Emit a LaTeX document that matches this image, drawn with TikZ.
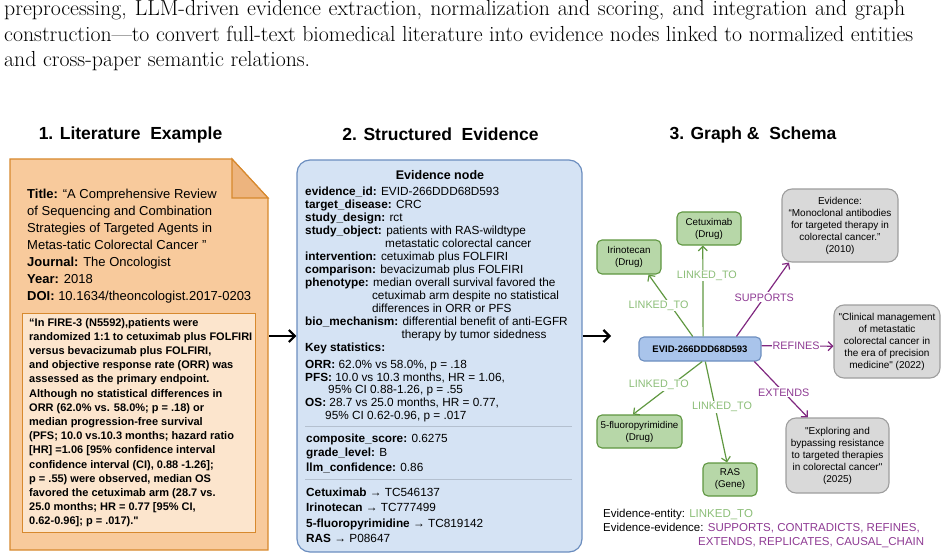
\documentclass[tikz,border=0pt]{standalone}
\usepackage{fontspec}
\setsansfont{Liberation Sans}
\usetikzlibrary{arrows.meta}

\definecolor{docfill}{HTML}{F8CA9C}
\definecolor{docdraw}{HTML}{D7892E}
\definecolor{foldfill}{HTML}{EDB47E}
\definecolor{quotefill}{HTML}{FCE5CD}
\definecolor{evfill}{HTML}{D5E3F4}
\definecolor{evdraw}{HTML}{6C8EBF}
\definecolor{evidfill}{HTML}{A9C4EB}
\definecolor{entfill}{HTML}{B7D7A8}
\definecolor{entdraw}{HTML}{5F9641}
\definecolor{grayfill}{HTML}{D9D9D9}
\definecolor{graydraw}{HTML}{9E9E9E}
\definecolor{linkline}{HTML}{609841}
\definecolor{linktext}{HTML}{8CBE78}
\definecolor{relline}{HTML}{802880}
\definecolor{reltext}{HTML}{8E3A93}
\definecolor{seprule}{HTML}{B4C0CF}

\tikzset{
  para/.style={anchor=base west, inner sep=0pt, font=\fontsize{21.8}{25}\selectfont},
  heading/.style={inner sep=0pt, font=\sffamily\bfseries\fontsize{17.5}{20}\selectfont},
  entity/.style={draw=entdraw, fill=entfill, line width=1.1pt, rounded corners=5pt,
    align=center, inner sep=0pt, font=\sffamily\fontsize{9.8}{12}\selectfont},
  evnode/.style={draw=graydraw, fill=grayfill, line width=1.1pt, rounded corners=10pt,
    align=center, inner sep=0pt, font=\sffamily\fontsize{10}{12}\selectfont},
  link/.style={draw=linkline, line width=1.2pt, -{Straight Barb[length=4.5pt,width=9pt]}},
  rel/.style={draw=relline, line width=1.2pt, -{Straight Barb[length=4.5pt,width=9pt]}},
  linklbl/.style={fill=white, inner sep=1pt, text=linktext, font=\sffamily\fontsize{10.8}{12}\selectfont},
  rellbl/.style={fill=white, inner sep=1pt, text=reltext, font=\sffamily\fontsize{10.8}{12}\selectfont},
  bigarrow/.style={line width=2.2pt, -{Straight Barb[length=6pt,width=12pt]}},
  evtext/.style={anchor=north west, inner sep=0pt, align=left},
}

\begin{document}
\begin{tikzpicture}[x=1pt,y=-1pt]
\useasboundingbox (0,0) rectangle (946,559);

\node[para] (p1) at (4,16) {\makebox[901pt][s]{preprocessing, LLM-driven evidence extraction, normalization and scoring, and integration and graph}};
\node[para] (p2) at (4,41.5) {\makebox[909pt][s]{construction—to convert full-text biomedical literature into evidence nodes linked to normalized entities}};
\node[para] (p3) at (4,67) {and cross-paper semantic relations.};

\node[heading] (h1) at (130.5,134.5) {1. Literature~~Example};
\node[heading] (h2) at (440.5,134.5) {2. Structured~~Evidence};
\node[heading] (h3) at (753,134.5) {3. Graph \&~~Schema};

% literature card
\draw[fill=docfill, draw=docdraw, line width=1.2pt] (10,159) -- (232,159) -- (268,198) -- (268,550) -- (10,550) -- cycle;
\draw[fill=foldfill, draw=docdraw, line width=1.2pt] (232,159) -- (232,198) -- (268,198) -- cycle;
\node[evtext, font=\sffamily\fontsize{13}{17}\selectfont] (meta) at (27,188.7)
  {\textbf{Title:} “A Comprehensive Review\\
   of Sequencing and Combination\\
   Strategies of Targeted Agents in\\
   Metas-tatic Colorectal Cancer ”\\
   \textbf{Journal:} The Oncologist\\
   \textbf{Year:} 2018\\
   \textbf{DOI:} 10.1634/theoncologist.2017-0203};
\draw[fill=quotefill, draw=docdraw, line width=1pt] (22,313) rectangle (255,532);
\node[evtext, font=\sffamily\bfseries\fontsize{11}{14.2}\selectfont] (quote) at (29,318)
  {“In FIRE-3 (N5592),patients were\\
   randomized 1:1 to cetuximab plus FOLFIRI\\
   versus bevacizumab plus FOLFIRI,\\
   and objective response rate (ORR) was\\
   assessed as the primary endpoint.\\
   Although no statistical differences in\\
   ORR (62.0\% vs. 58.0\%; p = .18) or\\
   median progression-free survival\\
   (PFS; 10.0 vs.10.3 months; hazard ratio\\
   {}[HR] =1.06 [95\% confidence interval\\
   confidence interval (CI), 0.88 -1.26];\\
   p = .55) were observed, median OS\\
   favored the cetuximab arm (28.7 vs.\\
   25.0 months; HR = 0.77 [95\% CI,\\
   0.62-0.96]; p = .017).\textquotedbl};

% structured evidence
\node[draw=evdraw, fill=evfill, line width=1.2pt, rounded corners=13pt,
  minimum width=285pt, minimum height=392pt] (evbox) at (439.5,356) {};
\node[inner sep=0pt, anchor=base, font=\sffamily\bfseries\fontsize{12.5}{14}\selectfont] (evtitle) at (440,180) {Evidence node};
\node[evtext, font=\sffamily\fontsize{11.8}{13}\selectfont] (fields) at (305,186.6)
  {\textbf{evidence\_id:} EVID-266DDD68D593\\
   \textbf{target\_disease:} CRC\\
   \textbf{study\_design:} rct\\
   \textbf{study\_object:} patients with RAS-wildtype\\
   \hphantom{\textbf{study\_object:}} metastatic colorectal cancer\\
   \textbf{intervention:} cetuximab plus FOLFIRI\\
   \textbf{comparison:} bevacizumab plus FOLFIRI\\
   \textbf{phenotype:} median overall survival favored the\\
   \hphantom{\textbf{phenotype:}} cetuximab arm despite no statistical\\
   \hphantom{\textbf{phenotype:}} differences in ORR or PFS\\
   \textbf{bio\_mechanism:} differential benefit of anti-EGFR\\
   \hphantom{\textbf{bio\_mechanism:}} therapy by tumor sidedness\\
   \textbf{Key statistics:}};
\node[evtext, font=\sffamily\fontsize{11.8}{12.8}\selectfont] (stats) at (305,359.8)
  {\textbf{ORR:} 62.0\% vs 58.0\%, p = .18\\
   \textbf{PFS:} 10.0 vs 10.3 months, HR = 1.06,\\
   \hspace*{23pt}95\% CI 0.88-1.26, p = .55\\
   \textbf{OS:} 28.7 vs 25.0 months, HR = 0.77,\\
   \hspace*{20pt}95\% CI 0.62-0.96, p = .017};
\draw[seprule, line width=0.7pt] (305,426) -- (572,426);
\node[evtext, font=\sffamily\fontsize{11.8}{14.2}\selectfont] (scores) at (306,434)
  {\textbf{composite\_score:} 0.6275\\
   \textbf{grade\_level:} B\\
   \textbf{llm\_confidence:} 0.86};
\draw[seprule, line width=0.7pt] (305,479) -- (572,479);
\node[evtext, font=\sffamily\fontsize{11.8}{15.5}\selectfont] (norms) at (306,487.5)
  {\textbf{Cetuximab} → TC546137\\
   \textbf{Irinotecan} → TC777499\\
   \textbf{5-fluoropyrimidine} → TC819142\\
   \textbf{RAS} → P08647};

\coordinate (docR) at (269,336);
\coordinate (graphL) at (611,336);
\draw[bigarrow] (docR) -- (docR -| evbox.west);
\draw[bigarrow] (evbox.east |- graphL) -- (graphL);

% graph
\node[draw=evdraw, fill=evidfill, line width=1.1pt, rounded corners=5pt, inner sep=0pt,
  minimum width=122pt, minimum height=24pt, font=\sffamily\bfseries\fontsize{9.5}{11}\selectfont] (evid) at (700,349) {EVID-266DDD68D593};
\node[entity, minimum width=64pt, minimum height=33pt] (cetux) at (709,228.5) {Cetuximab\\(Drug)};
\node[entity, minimum width=64pt, minimum height=34pt] (irino) at (629,257) {Irinotecan\\(Drug)};
\node[entity, minimum width=85pt, minimum height=33pt] (fluoro) at (639.5,431.5) {5-fluoropyrimidine\\(Drug)};
\node[entity, minimum width=54pt, minimum height=33pt] (ras) at (730,479.5) {RAS\\(Gene)};
\node[evnode, minimum width=116pt, minimum height=73pt] (ev2010) at (840,225.5)
  {Evidence:\\“Monoclonal antibodies\\for targeted therapy in\\colorectal cancer.”\\(2010)};
\node[evnode, minimum width=106pt, minimum height=73pt] (ev2022) at (887,341.5)
  {\textquotedbl Clinical management\\of metastatic\\colorectal cancer in\\the era of precision\\medicine\textquotedbl{} (2022)};
\node[evnode, minimum width=103pt, minimum height=75pt] (ev2025) at (837.5,455.5)
  {\textquotedbl Exploring and\\bypassing resistance\\to targeted therapies\\in colorectal cancer\textquotedbl\\(2025)};

\draw[link] (evid.76) -- node[linklbl, pos=0.67, xshift=4pt] {LINKED\_TO} (cetux.250);
\draw[link] (evid.120) -- node[linklbl, pos=0.5, xshift=-12pt] {LINKED\_TO} (irino.318);
\draw[link] (evid.280) -- node[linklbl, pos=0.44, xshift=-13pt] {LINKED\_TO} (fluoro.111);
\draw[link] (evid.293) -- node[linklbl, pos=0.45, xshift=7pt] {LINKED\_TO} (ras.100);
\draw[rel] (evid.19) -- node[rellbl, pos=0.53] {SUPPORTS} (ev2010.216);
\draw[rel] (evid.3) -- node[rellbl, pos=0.48] {REFINES} (ev2022.185);
\draw[rel] (evid.347) -- node[rellbl, pos=0.55] {EXTENDS} (ev2025.128);

\node[evtext, font=\sffamily\fontsize{11.5}{14.3}\selectfont] (legend) at (603,508.8)
  {Evidence-entity: \textcolor{linktext}{LINKED\_TO}\\
   Evidence-evidence: \textcolor{reltext}{SUPPORTS, CONTRADICTS, REFINES,}\\
   \hspace*{95pt}\textcolor{reltext}{EXTENDS, REPLICATES, CAUSAL\_CHAIN}};
\end{tikzpicture}
\end{document}
